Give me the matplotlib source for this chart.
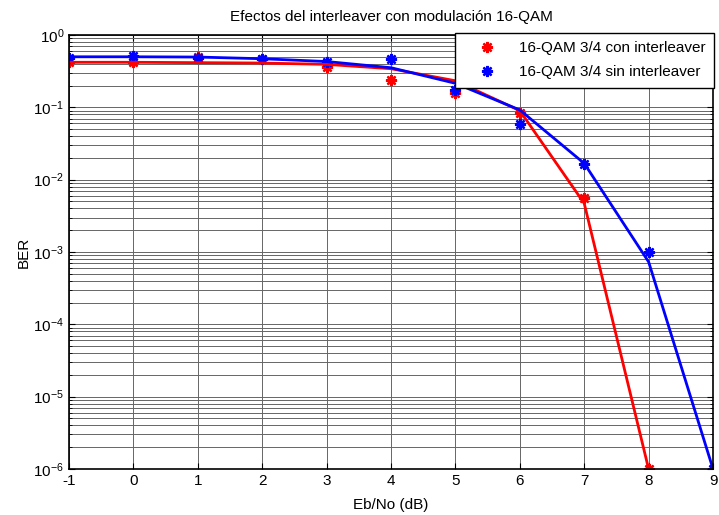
import matplotlib
matplotlib.use("Agg")
import matplotlib.pyplot as plt
from matplotlib.ticker import LogLocator, NullFormatter, FixedLocator

plt.rcParams['font.family'] = ['Liberation Sans', 'DejaVu Sans']
plt.rcParams['mathtext.fontset'] = 'custom'
plt.rcParams['mathtext.rm'] = 'Liberation Sans'
plt.rcParams['axes.unicode_minus'] = False

ebno = [-1, 0, 1, 2, 3, 4, 5, 6, 7, 8, 9]

# Simulated BER points
ber_con_meas = [0.42, 0.43, 0.50, 0.46, 0.365, 0.239, 0.156, 0.083, 0.0055, 1e-6]
ber_sin_meas = [0.485, 0.512, 0.485, 0.466, 0.43, 0.46, 0.174, 0.058, 0.0164, 0.00099, 1e-6]

# Fitted curves
ber_con_fit = [0.42, 0.42, 0.415, 0.41, 0.393, 0.342, 0.233, 0.09, 0.0047, 1e-6]
ber_sin_fit = [0.50, 0.50, 0.496, 0.47, 0.43, 0.353, 0.215, 0.092, 0.0168, 0.00073, 1e-6]

labels = ['16-QAM 3/4 con interleaver', '16-QAM 3/4 sin interleaver']

fig = plt.figure(figsize=(7.19, 5.15), dpi=100)
ax = fig.add_axes([0.096, 0.0893, 0.8957, 0.8427])

mk = dict(linestyle='none', marker=(8, 2, 0), markersize=8, markeredgewidth=1.7)
ax.plot(ebno[:len(ber_con_meas)], ber_con_meas, color='red', label=labels[0], **mk)
ax.plot(ebno, ber_sin_meas, color='blue', label=labels[1], **mk)
ax.plot(ebno[:len(ber_con_fit)], ber_con_fit, color='red', linewidth=2)
ax.plot(ebno, ber_sin_fit, color='blue', linewidth=2)

ax.set_yscale('log')
ax.set_xlim(-1, 9)
ax.set_ylim(1e-6, 1)
ax.xaxis.set_major_locator(FixedLocator(ebno))
ax.yaxis.set_major_locator(LogLocator(base=10, numticks=10))
ax.yaxis.set_minor_locator(LogLocator(base=10, subs=range(2, 10), numticks=20))
ax.yaxis.set_minor_formatter(NullFormatter())
ax.xaxis.get_offset_text().set_visible(False)
ax.yaxis.get_offset_text().set_visible(False)

ax.grid(True, which='major', color='#666666', linewidth=0.7)
ax.grid(True, which='minor', axis='y', color='#666666', linewidth=0.7)
ax.set_axisbelow(True)

ax.tick_params(which='both', direction='in', top=True, right=True, labelsize=11)
ax.tick_params(which='major', length=4)
ax.tick_params(which='minor', length=2)
for s in ax.spines.values():
    s.set_linewidth(1.2)

ax.set_title('Efectos del interleaver con modulación 16-QAM', fontsize=11, pad=10)
ax.set_xlabel('Eb/No (dB)', fontsize=11, labelpad=7)
ax.set_ylabel('BER', fontsize=11, labelpad=2)

leg = ax.legend(loc='upper right', bbox_to_anchor=(1.006, 1.012), fontsize=11,
                frameon=True, fancybox=False, edgecolor='black', framealpha=1,
                borderpad=0.55, handletextpad=0.6, labelspacing=0.65, handlelength=3.0,
                borderaxespad=0.2)
leg.get_frame().set_linewidth(1.0)

fig.savefig('out.png', dpi=100)
